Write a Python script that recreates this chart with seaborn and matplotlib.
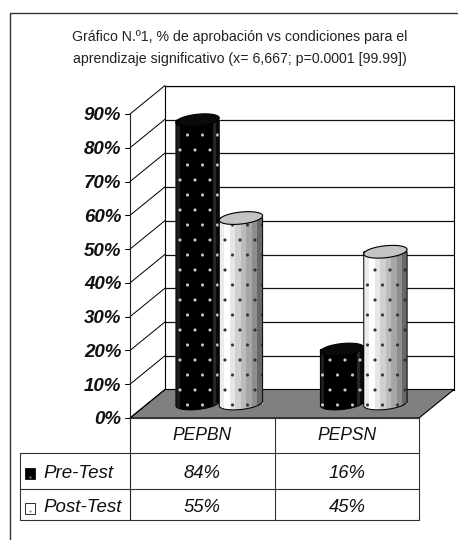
import numpy as np
import pandas as pd
import matplotlib
matplotlib.use("Agg")
import matplotlib.pyplot as plt
import seaborn as sns
from matplotlib.patches import Polygon, Rectangle

categories = ["PEPBN", "PEPSN"]
series_names = ["Pre-Test", "Post-Test"]
pre_test = [84, 16]
post_test = [55, 45]
tick_values = [0, 10, 20, 30, 40, 50, 60, 70, 80, 90]
title_lines = ["Gráfico N.º1, % de aprobación vs condiciones para el",
               "aprendizaje significativo (x= 6,667; p=0.0001 [99.99])"]

sns.set_theme(style="white")
plt.rcParams["font.family"] = ["Liberation Sans", "DejaVu Sans"]
plt.rcParams["hatch.linewidth"] = 0.1

W, H = 459, 540
DPI = 90
fig = plt.figure(figsize=(W / DPI, H / DPI), dpi=DPI, facecolor="white")


def axes_px(x0, y_top, x1, y_bot, z):
    return fig.add_axes([x0 / W, 1 - y_bot / H, (x1 - x0) / W, (y_bot - y_top) / H], zorder=z)


# back wall
ax_back = axes_px(165, 86, 454, 389.5, 1)
ax_back.set_xlim(0, 1); ax_back.set_ylim(0, 90)
ax_back.set_xticks([]); ax_back.set_yticks(tick_values); ax_back.set_yticklabels([])
ax_back.tick_params(length=0)
ax_back.grid(axis="y", color="#111111", lw=1.0)
ax_back.set_facecolor("white")
for s in ax_back.spines.values():
    s.set_color("black"); s.set_linewidth(0.9)

# pixel overlay
ov = axes_px(0, 0, W, H, 2)
ov.set_xlim(0, W); ov.set_ylim(H, 0); ov.axis("off"); ov.patch.set_alpha(0)
ov.plot([10, 10, W], [H, 13, 13], color="#333333", lw=1.1, solid_capstyle="butt")
ov.add_patch(Polygon([(130, 418), (165, 389.5), (454, 389.5), (419, 418)], closed=True,
                     fc="#808080", ec="black", lw=0.9))
py0, pstep = 418, (418 - 114) / 90
for v in tick_values:
    y = py0 - v * pstep
    ov.plot([130, 165], [y, y - 28.5], color="black", lw=0.8)
    ov.plot([125, 130], [y, y], color="black", lw=0.8)
ov.plot([130, 130], [114, 520], color="#222222", lw=0.9)
tc = "#333333"
ov.plot([130, 419, 419, 20, 20, 419], [418, 418, 520, 520, 453, 453], color=tc, lw=0.9)
ov.plot([20, 419], [488.5, 488.5], color=tc, lw=0.9)
ov.plot([275, 275], [418, 520], color=tc, lw=0.9)
cx = [202.5, 347]
for i, c in enumerate(categories):
    ov.text(cx[i], 436, c, ha="center", va="center", style="italic", fontsize=14, color="#111111")
    ov.text(cx[i], 474, f"{pre_test[i]}%", ha="center", va="center", style="italic", fontsize=14.8, color="#111111")
    ov.text(cx[i], 507, f"{post_test[i]}%", ha="center", va="center", style="italic", fontsize=14.8, color="#111111")
ov.text(43.5, 474, series_names[0], ha="left", va="center", style="italic", fontsize=15, color="#111111")
ov.text(43.5, 507, series_names[1], ha="left", va="center", style="italic", fontsize=15, color="#111111")
ov.add_patch(Rectangle((25, 468), 10, 11, fc="black", ec="black", lw=0.6))
ov.add_patch(Rectangle((25, 503), 10, 11, fc="white", ec="#333333", lw=0.8))
ov.plot([30, 30], [477, 511], ls="none", marker=".", ms=1.5, color="#888888")
ov.text(239.5, 37.5, title_lines[0], ha="center", va="center", fontsize=11.3, color="#222222")
ov.text(239.5, 59.5, title_lines[1], ha="center", va="center", fontsize=11.3, color="#222222")

# front y axis labels
ax_front = axes_px(130, 114, 419, 418, 3)
ax_front.patch.set_alpha(0)
ax_front.set_xlim(0, 1); ax_front.set_ylim(0, 90)
ax_front.set_xticks([]); ax_front.set_yticks(tick_values)
ax_front.set_yticklabels([f"{v}%" for v in tick_values], fontsize=15, fontweight="bold",
                         style="italic", color="#111111")
ax_front.tick_params(axis="y", length=0, pad=7)
for s in ax_front.spines.values():
    s.set_visible(False)

# bars, in the mid-depth plane of the box
df = pd.DataFrame({"cat": categories * 2,
                   "serie": [series_names[0]] * 2 + [series_names[1]] * 2,
                   "val": pre_test + post_test})
ax = axes_px(147, 100, 436, 403.5, 4)
ax.patch.set_alpha(0)
sns.barplot(data=df, x="cat", y="val", hue="serie", order=categories, hue_order=series_names,
            palette=["#050505", "#f4f4f4"], width=0.6, gap=0, saturation=1, legend=False,
            ax=ax, linewidth=0, zorder=3)
ax.set_xlim(-0.5, 1.5); ax.set_ylim(0, 90)
ax.axis("off")

# cylinder shading: bands from left to right
dark_bands = ["#1c1c1c", "#000000", "#000000", "#000000", "#000000", "#000000", "#000000",
              "#000000", "#000000", "#000000", "#262626", "#0a0a0a"]
light_bands = ["#ececec", "#ffffff", "#e6e6e6", "#d0d0d0", "#bcbcbc", "#a6a6a6", "#8e8e8e", "#686868"]


def to_img(bands):
    return np.array([[matplotlib.colors.to_rgb(c) for c in bands]])


t = np.linspace(0, 2 * np.pi, 90)
bars = list(ax.patches)
ax_h = 3.378  # px per data unit along the vertical
for k, b in enumerate(bars):
    x0, w, h = b.get_x(), b.get_width(), b.get_height()
    if h <= 0:
        continue
    dark = k < 2
    xc = x0 + w / 2
    a = w / 2
    bb = 6.0 / ax_h
    tilt = 2.2 / ax_h
    th = np.linspace(np.pi, 2 * np.pi, 40)
    low = np.c_[xc + a * np.cos(th), bb * np.sin(th) + tilt * np.cos(th)]
    verts = np.r_[low, [[x0 + w, h], [x0, h]]]
    body = Polygon(verts, closed=True, fc="none", lw=0, clip_on=False,
                   hatch=".", ec="#c8c8c8" if dark else "#333333", zorder=4 + k * 3)
    ax.add_patch(body)
    im = ax.imshow(to_img(dark_bands if dark else light_bands), extent=[x0, x0 + w, -5, 90],
                   aspect="auto", interpolation="nearest", zorder=3 + k * 3)
    ax.set_xlim(-0.5, 1.5); ax.set_ylim(0, 90)
    im.set_clip_box(fig.bbox)
    im.set_clip_path(body)
    ax.add_patch(Polygon(verts, closed=True, fc="none", ec="black", lw=0.8, clip_on=False,
                         zorder=4.5 + k * 3))
    top = Polygon(np.c_[xc + a * np.cos(t), h + bb * np.sin(t) + tilt * np.cos(t)], closed=True,
                  fc="#0a0a0a" if dark else "#c4c4c4", ec="black", lw=0.9, zorder=5 + k * 3)
    ax.add_patch(top)
ax.set_xlim(-0.5, 1.5); ax.set_ylim(0, 90)

fig.savefig("out.png", dpi=DPI, facecolor="white")
